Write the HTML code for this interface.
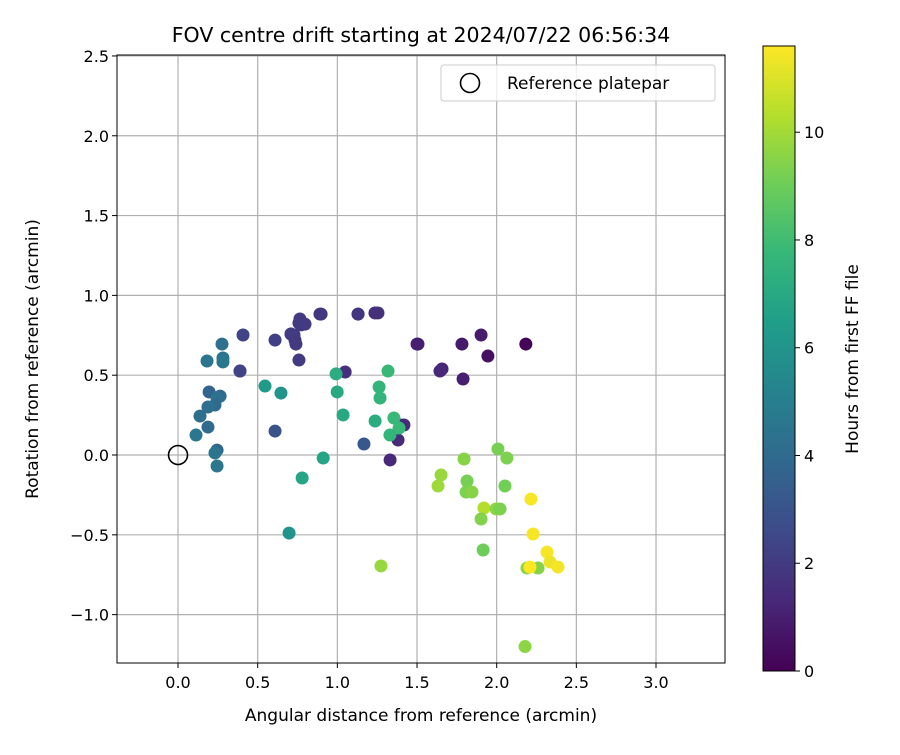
<!DOCTYPE html>
<html><head><meta charset="utf-8">
<style>body{margin:0;background:#fff}svg text{font-family:"DejaVu Sans","Liberation Sans",sans-serif}</style>
</head><body>
<svg id="c" width="900" height="750" xmlns="http://www.w3.org/2000/svg"></svg>
<script>
const xVals=[2.183,1.945,1.902,1.782,1.789,1.506,1.657,1.644,1.418,1.381,1.331,1.255,1.130,0.891,0.778,0.772,0.728,0.740,0.709,0.759,1.049,1.393,0.408,0.389,0.609,0.709,0.734,0.759,0.765,0.797,0.898,1.130,1.236,1.500,0.389,
0.276,0.182,0.282,0.282,0.195,0.264,0.245,0.232,0.188,0.138,0.188,0.113,0.245,0.232,0.245,0.609,
0.546,0.646,0.911,0.779,0.697,0.992,0.999,1.036,1.318,1.262,1.268,1.237,1.355,1.387,1.330,1.167,
1.795,2.008,2.064,1.651,1.632,1.814,1.808,1.845,2.052,1.920,1.996,2.021,1.902,1.915,1.274,2.178,2.260,2.190,
2.215,2.228,2.316,2.335,2.385,2.209];
const yVals=[0.695,0.620,0.752,0.695,0.476,0.695,0.539,0.526,0.188,0.094,-0.031,0.890,0.883,0.883,0.827,0.815,0.752,0.695,0.758,0.595,0.520,0.188,0.752,0.526,0.720,0.758,0.720,0.827,0.852,0.820,0.883,0.883,0.890,0.695,0.526,
0.695,0.589,0.608,0.583,0.395,0.369,0.357,0.313,0.301,0.244,0.175,0.125,0.031,0.013,-0.069,0.150,
0.432,0.388,-0.019,-0.144,-0.489,0.508,0.395,0.251,0.526,0.426,0.357,0.213,0.232,0.169,0.125,0.069,
-0.025,0.038,-0.019,-0.125,-0.194,-0.163,-0.232,-0.232,-0.194,-0.332,-0.338,-0.338,-0.401,-0.595,-0.695,-1.200,-0.708,-0.708,
-0.276,-0.495,-0.608,-0.670,-0.702,-0.702];
const hours=[0.1,0.5,0.9,0.8,1.0,1.0,1.2,1.3,1.5,1.4,1.3,1.7,1.9,1.9,2.0,2.0,2.0,2.0,2.0,2.0,1.6,1.3,2.3,2.3,2.2,2.1,2.0,2.0,2.0,2.0,1.9,1.8,1.6,1.0,2.3,
4.3,4.5,4.4,4.6,3.7,4.0,4.3,4.0,4.2,4.2,4.0,4.6,3.8,4.5,4.6,3.0,
6.3,6.0,6.8,6.8,6.0,7.2,7.0,7.0,7.8,7.6,7.6,7.2,7.8,7.8,7.6,3.2,
9.5,9.2,9.3,9.8,9.9,9.2,9.3,9.5,9.1,10.3,9.6,9.3,9.4,9.0,9.8,9.6,9.5,9.6,
11.5,11.5,11.5,11.3,11.4,11.6];
const xTicks=[0,0.5,1,1.5,2,2.5,3];
const yTicks=[-1,-0.5,0,0.5,1,1.5,2,2.5];
const cTicks=[0,2,4,6,8,10];
const NS="http://www.w3.org/2000/svg",svg=document.getElementById('c');
const L=117,R=725,T=55,B=663,xmin=-0.383,xmax=3.433,ymin=-1.303,ymax=2.506,hmax=11.6;
const sx=v=>L+(v-xmin)/(xmax-xmin)*(R-L), sy=v=>B-(v-ymin)/(ymax-ymin)*(B-T);
const stops=[[68,1,84],[72,40,120],[62,74,137],[49,104,142],[38,130,142],[31,158,137],[53,183,121],[109,205,89],[180,222,44],[253,231,37]];
function vir(t){t=Math.max(0,Math.min(1,t));const p=t*(stops.length-1),i=Math.min(stops.length-2,Math.floor(p)),f=p-i;const a=stops[i],b=stops[i+1];return `rgb(${a.map((v,k)=>Math.round(v+(b[k]-v)*f)).join(',')})`;}
function el(tag,attrs,name,inter,txt){const e=document.createElementNS(NS,tag);for(const k in attrs)e.setAttribute(k,attrs[k]);


if(txt!==undefined)e.textContent=txt;svg.appendChild(e);return e;}
const fmt=v=>(v<0?'\u2212':'')+Math.abs(v).toFixed(1);
xTicks.forEach(v=>{const x=sx(v);el('line',{x1:x,x2:x,y1:T,y2:B,stroke:'#b0b0b0','stroke-width':1.2},'x-gridline',false);
el('line',{x1:x,x2:x,y1:B,y2:B+5,stroke:'#000'},'x-tick',false);
el('text',{x:x,y:B+25,'text-anchor':'middle','font-size':16},'x-tick-label',false,fmt(v));});
yTicks.forEach(v=>{const y=sy(v);el('line',{x1:L,x2:R,y1:y,y2:y,stroke:'#b0b0b0','stroke-width':1.2},'y-gridline',false);
el('line',{x1:L-5,x2:L,y1:y,y2:y,stroke:'#000'},'y-tick',false);
el('text',{x:L-8,y:y+6,'text-anchor':'end','font-size':16},'y-tick-label',false,fmt(v));});
el('circle',{cx:sx(0),cy:sy(0),r:9.5,fill:'none',stroke:'#000','stroke-width':1.6},'reference-marker',false);
xVals.forEach((v,i)=>{el('circle',{cx:sx(v),cy:sy(yVals[i]),r:6.5,fill:vir(hours[i]/hmax)},'data-point',false);});
el('rect',{x:L,y:T,width:R-L,height:B-T,fill:'none',stroke:'#000','stroke-width':1},'plot-frame',false);
el('text',{x:421,y:42,'text-anchor':'middle','font-size':20.5},'chart-title',false,'FOV centre drift starting at 2024/07/22 06:56:34');
el('text',{x:421,y:721,'text-anchor':'middle','font-size':17},'x-axis-title',false,'Angular distance from reference (arcmin)');
el('text',{x:38,y:359,'text-anchor':'middle','font-size':17,transform:'rotate(-90 38 359)'},'y-axis-title',false,'Rotation from reference (arcmin)');
el('rect',{x:441,y:65,width:274,height:36,rx:3,fill:'#fff','fill-opacity':0.8,stroke:'#ccc'},'legend-box',false);
el('circle',{cx:470,cy:83,r:9.5,fill:'none',stroke:'#000','stroke-width':1.6},'legend-marker',false);
el('text',{x:507,y:89,'font-size':17},'legend-label',false,'Reference platepar');
const CL=763,CR=795,CT=46,CB=671;
const defs=document.createElementNS(NS,'defs');defs.innerHTML='<linearGradient id="g" x1="0" y1="1" x2="0" y2="0">'+stops.map((s,i)=>`<stop offset="${i/(stops.length-1)}" stop-color="rgb(${s})"/>`).join('')+'</linearGradient>';svg.appendChild(defs);
el('rect',{x:CL,y:CT,width:CR-CL,height:CB-CT,fill:'url(#g)',stroke:'#000'},'colorbar',false);
cTicks.forEach(v=>{const y=CB-v/hmax*(CB-CT);el('line',{x1:CR,x2:CR+5,y1:y,y2:y,stroke:'#000'},'colorbar-tick',false);
el('text',{x:CR+9,y:y+6,'font-size':16},'colorbar-tick-label',false,String(v));});
el('text',{x:858,y:359,'text-anchor':'middle','font-size':17,transform:'rotate(-90 858 359)'},'colorbar-title',false,'Hours from first FF file');
</script>
</body></html>
